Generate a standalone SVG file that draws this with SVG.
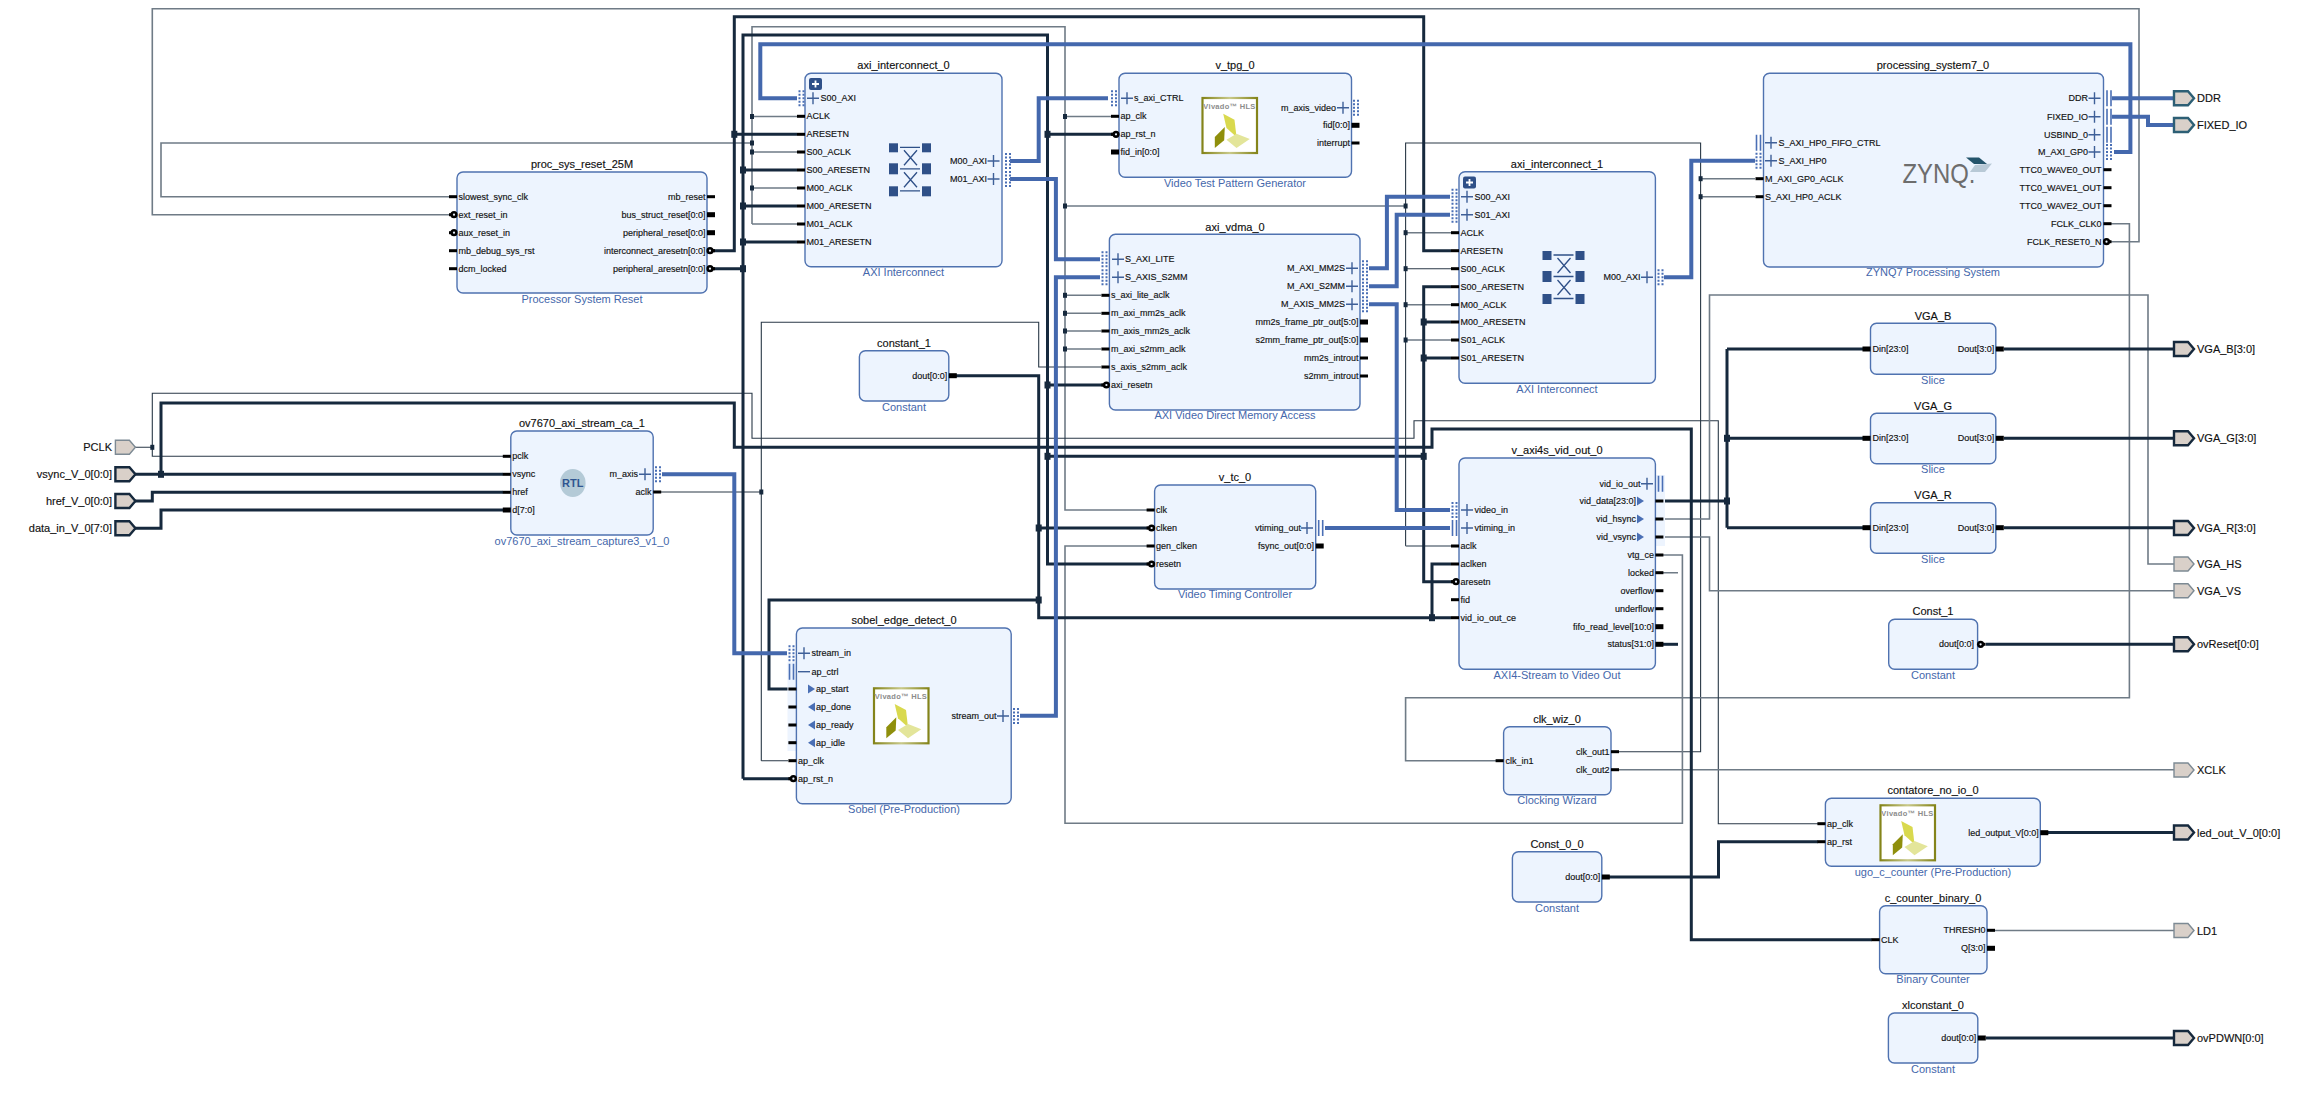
<svg xmlns="http://www.w3.org/2000/svg" width="2310" height="1093" viewBox="0 0 2310 1093">
<style>
text{font-family:"Liberation Sans",Arial,sans-serif;fill:#111;dominant-baseline:central;stroke:#111;stroke-width:.15}
.t{font-size:11px;text-anchor:middle}
.f{font-size:11px;text-anchor:middle;fill:#4567ab;stroke:none}
.l{font-size:9px}
.r{font-size:9px;text-anchor:end}
.p{font-size:11px}
.pr{font-size:11px;text-anchor:end}
.b{fill:#edf4fe;stroke:#4f72b0;stroke-width:1.4}
.w{fill:none;stroke:#16293d;stroke-width:3}
.g{fill:none;stroke:#6f7b86;stroke-width:1.6}
.n{fill:none;stroke:#2a3947;stroke-width:1.1}
.u{fill:none;stroke:#4468ad;stroke-width:4}
.j{fill:#16293d}
.pd{fill:#d9d0c9;stroke:#16293d;stroke-width:2.4}
.pg{fill:#d9d0c9;stroke:#7d8a94;stroke-width:1.4}
.pt{fill:#d9d0c9;stroke:#2d5f75;stroke-width:2.4}
</style>
<defs>
<rect id="sl" x="-8" y="-1.5" width="8" height="3" fill="#000"/>
<rect id="sr" x="0" y="-1.5" width="8" height="3" fill="#000"/>
<rect id="Sl" x="-8" y="-2.5" width="8" height="5" fill="#000"/>
<rect id="Sr" x="0" y="-2.5" width="8" height="5" fill="#000"/>
<g id="il"><rect x="-8" y="-1.500" width="5" height="3" fill="#000"/><circle cx="-3" r="3.600" fill="#000"/><circle cx="-3" r="1.100" fill="#edf4fe"/></g>
<g id="ir"><rect x="3" y="-1.500" width="5" height="3" fill="#000"/><circle cx="3" r="3.600" fill="#000"/><circle cx="3" r="1.100" fill="#edf4fe"/></g>
<rect id="j" x="-3" y="-3.5" width="6" height="7" class="j"/>
<rect id="jt" x="-2" y="-2.5" width="4" height="5" class="j"/>
<path id="pl" d="M-6 0H6M0-6V6" stroke="#3e5f98" stroke-width="1.4" fill="none"/>
<path id="bd" d="M-2-8V8M2-8V8" stroke="#4a6fb5" stroke-width="2" stroke-dasharray="2 1.5" fill="none"/>
<path id="bb" d="M-2-8V8M2-8V8" stroke="#4a6fb5" stroke-width="1.6" fill="none"/>
<polygon id="tr" points="0,-4.5 7,0 0,4.5" fill="#4a6fb5"/>
<polygon id="tl" points="7,-4.5 0,0 7,4.5" fill="#4a6fb5"/>
<polygon id="port" points="0,-7 14,-7 20,0 14,7 0,7"/>
<linearGradient id="hg" x1="0" y1="0" x2="1" y2="0"><stop offset="0" stop-color="#84841a"/><stop offset=".5" stop-color="#c9c98a"/><stop offset="1" stop-color="#84841a"/></linearGradient>
<g id="hls">
<rect x="1" y="1" width="54.5" height="55" fill="#fff" stroke="url(#hg)" stroke-width="2.2"/>
<text x="28" y="9.5" text-anchor="middle" style="font-size:7.5px;font-weight:bold;fill:#8c8c8c;stroke:none;letter-spacing:.3px">Vivado™ HLS</text>
<polygon points="21.7,16.7 33,22.7 35,40 25,31" fill="#d9d94e"/>
<polygon points="23.3,30 13.3,40 13.3,51 22.7,43.3" fill="#8f8f0c"/>
<polygon points="25,42.7 35,36.7 48.3,42 35,51" fill="#e3e59a"/>
</g>
<g id="xbar" fill="#2f5088">
<rect x="1" y="0" width="9" height="9"/><rect x="34" y="0" width="9" height="9"/>
<rect x="1" y="20" width="9" height="11"/><rect x="34" y="20" width="9" height="11"/>
<rect x="1" y="43" width="9" height="10"/><rect x="34" y="43" width="9" height="10"/>
<path d="M12 4H32M12 25.500H32M12 47.500H32M16 7L29 22M29 7L16 22M16 29L29 44M29 29L16 44" stroke="#2f5088" stroke-width="1.3" fill="none"/>
</g>
<g id="btn"><rect width="13" height="12" rx="2" fill="#2f5088"/><path d="M3 6H10M6.500 2.500V9.500" stroke="#fff" stroke-width="1.8"/></g>
</defs>

<g id="connectors">
<path class="g" d="M2111 241.700H2139V8.700H152.300V214.700H449"/>
<path class="g" d="M449 196.700H161V143H752M752 224V26.700H1065V510H1148M752 116.500H797M752 152H797M752 188H797M752 224H797"/>
<path class="g" d="M1065 116.500H1111M1065 206H1405.600M1065 295.300H1101M1065 313.300H1101M1065 331H1101M1065 349H1101"/>
<path class="n" d="M1405.600 546V143H1700.600V751.700H1611M1405.600 268.700H1451"/>
<path class="g" d="M1405.600 232.700H1451M1405.600 304.700H1451M1405.600 340H1451M1405.600 546H1451M1700.600 178.700H1755M1700.600 196.700H1755"/>
<path class="g" d="M2111 223.700H2129.400V697.700H1405.600V760.700H1496"/>
<path class="n" d="M503 456.300H152.300V393.300H752V438.300H1414V420.700H1718.300V823.700H1818M134.600 447.300H152.300"/>
<path class="n" d="M658 492H761.300M761.300 760.700V322.300H1038.700V367H1101M761.300 760.700H788"/>
<path class="g" d="M1663 555H1682.400V823.300H1065V546H1148"/>
<path class="g" d="M1663 519H1709.500V295H2148V564H2174M1663 537H1709.500V590.700H2174"/>
<path class="g" d="M1663 572.700H1678M1990 930.500H2174M1611 769.700H2174"/>
<path class="w" d="M707 250.700H734.300V16.700H1423.700V250.700H1451M734.300 134.300H797"/>
<path class="w" d="M707 268.700H743M743 778.700V35H1047.500V564H1148M743 170H797M743 206H797M743 242H797M743 778.700H790M1047.500 134.300H1113M1047.500 385H1103M1047.500 456.300H1423.700"/>
<path class="w" d="M1451 286.700H1423.700V581.700H1453M1423.700 322H1451M1423.700 358H1451"/>
<path class="w" d="M948.800 375.700H1038.700V617.700H1451M1038.700 528H1148M1038.700 600H769V689H788M1432 617.700V564H1451"/>
<path class="w" d="M134.600 474.300H503M161 474.300V403H734.300V447.300H1432V429H1691.300V939.700H1872"/>
<path class="w" d="M134.600 501H152.300V492.300H503M134.600 528.300H161V510H503"/>
<path class="w" d="M1663 501H1727M1727 349V527.700M1727 349H1863M1727 438.300H1863M1727 527.700H1863"/>
<path class="w" d="M2004 349H2174M2004 438.300H2174M2004 527.700H2174M1986 644.300H2174M2048 832.500H2174M1986 1038H2174"/>
<path class="w" d="M1609 877H1718.500V841.700H1818"/>
<path class="w" d="M1662 644.300H1678"/>
<path class="u" d="M797 98.300H760.300V44.300H2130.400V152H2114"/>
<path class="u" d="M1010 161H1038.700V98.300H1108"/>
<path class="u" d="M1010 179H1055.900V259.300H1100"/>
<path class="u" d="M1100 277.300H1055.900V715.700H1020"/>
<path class="u" d="M1369 268.300H1386.900V196.700H1450"/>
<path class="u" d="M1369 286.300H1396.700V214.700H1450"/>
<path class="u" d="M1369 304.300H1396.700V510H1450"/>
<path class="u" d="M1325 528H1450"/>
<path class="u" d="M662 474.300H734.300V653.300H787"/>
<path class="u" d="M1664 277.300H1691.300V160.700H1755"/>
<path class="u" d="M2112 98.300H2174"/>
<path class="u" d="M2112 116.700H2148V125H2174"/>
<g>
<use href="#j" x="734.300" y="134.300"/><use href="#j" x="743" y="170"/><use href="#j" x="743" y="206"/><use href="#j" x="743" y="242"/><use href="#j" x="743" y="268.700"/>
<use href="#j" x="1047.500" y="134.300"/><use href="#j" x="1047.500" y="385"/><use href="#j" x="1047.500" y="456.300"/><use href="#j" x="1423.700" y="456.300"/><use href="#j" x="1423.700" y="322"/><use href="#j" x="1423.700" y="358"/>
<use href="#j" x="1038.700" y="528"/><use href="#j" x="1038.700" y="600"/><use href="#j" x="1432" y="617.700"/><use href="#j" x="161" y="474.300"/><use href="#j" x="1727" y="438.300"/><use href="#j" x="1727" y="501"/>
<use href="#jt" x="752" y="116.500"/><use href="#jt" x="752" y="143"/><use href="#jt" x="752" y="152"/><use href="#jt" x="752" y="188"/>
<use href="#jt" x="1065" y="116.500"/><use href="#jt" x="1065" y="206"/><use href="#jt" x="1065" y="295.300"/><use href="#jt" x="1065" y="313.300"/><use href="#jt" x="1065" y="331"/><use href="#jt" x="1065" y="349"/>
<use href="#jt" x="1405.600" y="206"/><use href="#jt" x="1405.600" y="232.700"/><use href="#jt" x="1405.600" y="268.700"/><use href="#jt" x="1405.600" y="304.700"/><use href="#jt" x="1405.600" y="340"/>
<use href="#jt" x="1700.600" y="178.700"/><use href="#jt" x="1700.600" y="196.700"/><use href="#jt" x="152.300" y="447.300"/><use href="#jt" x="761.300" y="492"/>
</g>
</g>

<g id="proc_sys_reset_25M">
<rect class="b" x="457" y="172" width="250" height="121" rx="6"/>
<text class="t" x="582" y="164">proc_sys_reset_25M</text><text class="f" x="582" y="299">Processor System Reset</text>
<use href="#sl" x="457" y="196.700"/><use href="#il" x="457" y="214.700"/><use href="#il" x="457" y="232.700"/><use href="#sl" x="457" y="250.700"/><use href="#sl" x="457" y="268.700"/>
<use href="#sr" x="707" y="196.700"/><use href="#Sr" x="707" y="214.700"/><use href="#Sr" x="707" y="232.700"/><use href="#ir" x="707" y="250.700"/><use href="#ir" x="707" y="268.700"/>
<text class="l" x="458.500" y="196.700">slowest_sync_clk</text><text class="l" x="458.500" y="214.700">ext_reset_in</text><text class="l" x="458.500" y="232.700">aux_reset_in</text><text class="l" x="458.500" y="250.700">mb_debug_sys_rst</text><text class="l" x="458.500" y="268.700">dcm_locked</text>
<text class="r" x="705.500" y="196.700">mb_reset</text><text class="r" x="705.500" y="214.700">bus_struct_reset[0:0]</text><text class="r" x="705.500" y="232.700">peripheral_reset[0:0]</text><text class="r" x="705.500" y="250.700">interconnect_aresetn[0:0]</text><text class="r" x="705.500" y="268.700">peripheral_aresetn[0:0]</text>
</g>

<g id="axi_interconnect_0">
<rect class="b" x="805" y="73.300" width="197" height="193.400" rx="6"/>
<text class="t" x="903.500" y="65">axi_interconnect_0</text><text class="f" x="903.500" y="272">AXI Interconnect</text>
<use href="#btn" x="809" y="78"/><use href="#xbar" x="888" y="143.300"/>
<use href="#bd" x="801.500" y="98.300"/><use href="#pl" x="813" y="98.300"/>
<use href="#sl" x="805" y="116.300"/><use href="#sl" x="805" y="134.300"/><use href="#sl" x="805" y="152"/><use href="#sl" x="805" y="170"/><use href="#sl" x="805" y="188"/><use href="#sl" x="805" y="206"/><use href="#sl" x="805" y="224"/><use href="#sl" x="805" y="242"/>
<use href="#bd" x="1008" y="161"/><use href="#pl" x="993.500" y="161"/><use href="#bd" x="1008" y="179"/><use href="#pl" x="993.500" y="179"/>
<text class="l" x="820.500" y="98.300">S00_AXI</text><text class="l" x="806.500" y="116.300">ACLK</text><text class="l" x="806.500" y="134.300">ARESETN</text><text class="l" x="806.500" y="152">S00_ACLK</text><text class="l" x="806.500" y="170">S00_ARESETN</text><text class="l" x="806.500" y="188">M00_ACLK</text><text class="l" x="806.500" y="206">M00_ARESETN</text><text class="l" x="806.500" y="224">M01_ACLK</text><text class="l" x="806.500" y="242">M01_ARESETN</text>
<text class="r" x="987" y="161">M00_AXI</text><text class="r" x="987" y="179">M01_AXI</text>
</g>

<g id="v_tpg_0">
<rect class="b" x="1119" y="73.300" width="232.500" height="104" rx="6"/>
<text class="t" x="1235" y="65">v_tpg_0</text><text class="f" x="1235" y="183">Video Test Pattern Generator</text>
<use href="#hls" x="1201.500" y="97"/>
<use href="#bd" x="1114" y="98.300"/><use href="#pl" x="1127" y="98.300"/><use href="#sl" x="1119" y="116.300"/><use href="#il" x="1119" y="134.300"/><use href="#Sl" x="1119" y="152"/>
<use href="#bd" x="1356" y="107.700"/><use href="#pl" x="1343" y="107.700"/><use href="#Sr" x="1351.500" y="125.300"/><use href="#sr" x="1351.500" y="143"/>
<text class="l" x="1134" y="98.300">s_axi_CTRL</text><text class="l" x="1120.500" y="116.300">ap_clk</text><text class="l" x="1120.500" y="134.300">ap_rst_n</text><text class="l" x="1120.500" y="152">fid_in[0:0]</text>
<text class="r" x="1336" y="107.700">m_axis_video</text><text class="r" x="1350" y="125.300">fid[0:0]</text><text class="r" x="1350" y="143">interrupt</text>
</g>

<g id="axi_vdma_0">
<rect class="b" x="1109.400" y="234.300" width="250.600" height="175.700" rx="6"/>
<text class="t" x="1235" y="227">axi_vdma_0</text><text class="f" x="1235" y="415">AXI Video Direct Memory Access</text>
<use href="#bd" x="1104.500" y="259.300"/><use href="#pl" x="1118" y="259.300"/><use href="#bd" x="1104.500" y="277.300"/><use href="#pl" x="1118" y="277.300"/>
<use href="#sl" x="1109.400" y="295.300"/><use href="#sl" x="1109.400" y="313.300"/><use href="#sl" x="1109.400" y="331"/><use href="#sl" x="1109.400" y="349"/><use href="#sl" x="1109.400" y="367"/><use href="#il" x="1109.400" y="385"/>
<use href="#bd" x="1365" y="268.300"/><use href="#pl" x="1352" y="268.300"/><use href="#bd" x="1365" y="286.300"/><use href="#pl" x="1352" y="286.300"/><use href="#bd" x="1365" y="304.300"/><use href="#pl" x="1352" y="304.300"/>
<use href="#Sr" x="1360" y="322"/><use href="#Sr" x="1360" y="340"/><use href="#sr" x="1360" y="358"/><use href="#sr" x="1360" y="376"/>
<text class="l" x="1125" y="259.300">S_AXI_LITE</text><text class="l" x="1125" y="277.300">S_AXIS_S2MM</text><text class="l" x="1111" y="295.300">s_axi_lite_aclk</text><text class="l" x="1111" y="313.300">m_axi_mm2s_aclk</text><text class="l" x="1111" y="331">m_axis_mm2s_aclk</text><text class="l" x="1111" y="349">m_axi_s2mm_aclk</text><text class="l" x="1111" y="367">s_axis_s2mm_aclk</text><text class="l" x="1111" y="385">axi_resetn</text>
<text class="r" x="1345" y="268.300">M_AXI_MM2S</text><text class="r" x="1345" y="286.300">M_AXI_S2MM</text><text class="r" x="1345" y="304.300">M_AXIS_MM2S</text><text class="r" x="1358.500" y="322">mm2s_frame_ptr_out[5:0]</text><text class="r" x="1358.500" y="340">s2mm_frame_ptr_out[5:0]</text><text class="r" x="1358.500" y="358">mm2s_introut</text><text class="r" x="1358.500" y="376">s2mm_introut</text>
</g>

<g id="axi_interconnect_1">
<rect class="b" x="1459" y="171.700" width="196.400" height="211.600" rx="6"/>
<text class="t" x="1557" y="164">axi_interconnect_1</text><text class="f" x="1557" y="389">AXI Interconnect</text>
<use href="#btn" x="1463" y="176.500"/><use href="#xbar" x="1541.500" y="251"/>
<use href="#bd" x="1454.500" y="196.700"/><use href="#pl" x="1467" y="196.700"/><use href="#bd" x="1454.500" y="214.700"/><use href="#pl" x="1467" y="214.700"/>
<use href="#sl" x="1459" y="232.700"/><use href="#sl" x="1459" y="250.700"/><use href="#sl" x="1459" y="268.700"/><use href="#sl" x="1459" y="286.700"/><use href="#sl" x="1459" y="304.700"/><use href="#sl" x="1459" y="322"/><use href="#sl" x="1459" y="340"/><use href="#sl" x="1459" y="358"/>
<use href="#bd" x="1660.500" y="277.300"/><use href="#pl" x="1647" y="277.300"/>
<text class="l" x="1474.500" y="196.700">S00_AXI</text><text class="l" x="1474.500" y="214.700">S01_AXI</text><text class="l" x="1460.500" y="232.700">ACLK</text><text class="l" x="1460.500" y="250.700">ARESETN</text><text class="l" x="1460.500" y="268.700">S00_ACLK</text><text class="l" x="1460.500" y="286.700">S00_ARESETN</text><text class="l" x="1460.500" y="304.700">M00_ACLK</text><text class="l" x="1460.500" y="322">M00_ARESETN</text><text class="l" x="1460.500" y="340">S01_ACLK</text><text class="l" x="1460.500" y="358">S01_ARESETN</text>
<text class="r" x="1640.500" y="277.300">M00_AXI</text>
</g>

<g id="processing_system7_0">
<rect class="b" x="1763.500" y="73.300" width="340" height="193.700" rx="6"/>
<text class="t" x="1933" y="65">processing_system7_0</text><text class="f" x="1933" y="272">ZYNQ7 Processing System</text>
<text x="1902.500" y="173" textLength="73" lengthAdjust="spacingAndGlyphs" style="font-size:28px;fill:#6d6d6d;stroke:none">ZYNQ.</text>
<polygon points="1966,157.500 1979,157.500 1987,164 1974,164" fill="#24546b"/><polygon points="1975,165 1992,163.500 1985,172 1970,172" fill="#b8c9d6"/>
<use href="#bb" x="1758.500" y="142.700"/><use href="#pl" x="1771" y="142.700"/><use href="#bd" x="1758.500" y="160.700"/><use href="#pl" x="1771" y="160.700"/><use href="#sl" x="1763.500" y="178.700"/><use href="#sl" x="1763.500" y="196.700"/>
<use href="#bb" x="2109" y="98.300"/><use href="#pl" x="2094.500" y="98.300"/><use href="#bb" x="2109" y="116.700"/><use href="#pl" x="2094.500" y="116.700"/><use href="#bb" x="2109" y="134.700"/><use href="#pl" x="2094.500" y="134.700"/><use href="#bd" x="2109" y="152"/><use href="#pl" x="2094.500" y="152"/>
<use href="#sr" x="2103.500" y="169.700"/><use href="#sr" x="2103.500" y="187.700"/><use href="#sr" x="2103.500" y="205.700"/><use href="#sr" x="2103.500" y="223.700"/><use href="#ir" x="2103.500" y="241.700"/>
<text class="l" x="1778.500" y="142.700">S_AXI_HP0_FIFO_CTRL</text><text class="l" x="1778.500" y="160.700">S_AXI_HP0</text><text class="l" x="1765" y="178.700">M_AXI_GP0_ACLK</text><text class="l" x="1765" y="196.700">S_AXI_HP0_ACLK</text>
<text class="r" x="2088" y="98.300">DDR</text><text class="r" x="2088" y="116.700">FIXED_IO</text><text class="r" x="2088" y="134.700">USBIND_0</text><text class="r" x="2088" y="152">M_AXI_GP0</text>
<text class="r" x="2101.500" y="169.700">TTC0_WAVE0_OUT</text><text class="r" x="2101.500" y="187.700">TTC0_WAVE1_OUT</text><text class="r" x="2101.500" y="205.700">TTC0_WAVE2_OUT</text><text class="r" x="2101.500" y="223.700">FCLK_CLK0</text><text class="r" x="2101.500" y="241.700">FCLK_RESET0_N</text>
</g>

<g id="ov7670_axi_stream_ca_1">
<rect class="b" x="510.800" y="431" width="142.400" height="104" rx="6"/>
<text class="t" x="582" y="423.300">ov7670_axi_stream_ca_1</text><text class="f" x="582" y="541">ov7670_axi_stream_capture3_v1_0</text>
<ellipse cx="572.800" cy="483" rx="12.800" ry="14" fill="#b4cad7"/><text x="572.800" y="483" text-anchor="middle" style="font-size:11px;font-weight:bold;fill:#2f5590;stroke:none">RTL</text>
<use href="#sl" x="510.800" y="456.300"/><use href="#sl" x="510.800" y="474.300"/><use href="#sl" x="510.800" y="492.300"/><use href="#Sl" x="510.800" y="510"/>
<use href="#bd" x="658" y="474.300"/><use href="#pl" x="645" y="474.300"/><use href="#sr" x="653.200" y="492"/>
<text class="l" x="512.300" y="456.300">pclk</text><text class="l" x="512.300" y="474.300">vsync</text><text class="l" x="512.300" y="492.300">href</text><text class="l" x="512.300" y="510">d[7:0]</text>
<text class="r" x="638" y="474.300">m_axis</text><text class="r" x="651.500" y="492">aclk</text>
</g>

<g id="constant_1">
<rect class="b" x="859.400" y="350.700" width="89.400" height="50.300" rx="6"/>
<text class="t" x="904" y="343.300">constant_1</text><text class="f" x="904" y="407.300">Constant</text>
<use href="#Sr" x="948.800" y="375.700"/><text class="r" x="947.300" y="375.700">dout[0:0]</text>
</g>

<g id="v_tc_0">
<rect class="b" x="1154.600" y="485" width="161.100" height="104" rx="6"/>
<text class="t" x="1235" y="477.300">v_tc_0</text><text class="f" x="1235" y="594.300">Video Timing Controller</text>
<use href="#sl" x="1154.600" y="510"/><use href="#il" x="1154.600" y="528"/><use href="#sl" x="1154.600" y="546"/><use href="#il" x="1154.600" y="564"/>
<use href="#bb" x="1320.700" y="528"/><use href="#pl" x="1307" y="528"/><use href="#Sr" x="1315.700" y="546"/>
<text class="l" x="1156" y="510">clk</text><text class="l" x="1156" y="528">clken</text><text class="l" x="1156" y="546">gen_clken</text><text class="l" x="1156" y="564">resetn</text>
<text class="r" x="1301" y="528">vtiming_out</text><text class="r" x="1314" y="546">fsync_out[0:0]</text>
</g>

<g id="v_axi4s_vid_out_0">
<rect x="1655.400" y="475" width="9.600" height="71" fill="#edf4fe"/>
<rect class="b" x="1459" y="458" width="196.400" height="211.300" rx="6"/>
<text class="t" x="1557" y="450.300">v_axi4s_vid_out_0</text><text class="f" x="1557" y="675">AXI4-Stream to Video Out</text>
<use href="#bd" x="1454.500" y="510"/><use href="#pl" x="1467" y="510"/><use href="#bb" x="1454.500" y="528"/><use href="#pl" x="1467" y="528"/>
<use href="#sl" x="1459" y="546"/><use href="#sl" x="1459" y="564"/><use href="#il" x="1459" y="581.700"/><use href="#sl" x="1459" y="599.700"/><use href="#sl" x="1459" y="617.700"/>
<use href="#bb" x="1660.500" y="483.700"/><use href="#pl" x="1647" y="483.700"/><use href="#tr" x="1637" y="501"/><use href="#tr" x="1637" y="519"/><use href="#tr" x="1637" y="537"/>
<use href="#sr" x="1655.400" y="501"/><use href="#sr" x="1655.400" y="519"/><use href="#sr" x="1655.400" y="537"/><use href="#sr" x="1655.400" y="555"/><use href="#sr" x="1655.400" y="572.700"/><use href="#sr" x="1655.400" y="590.700"/><use href="#sr" x="1655.400" y="608.700"/><use href="#Sr" x="1655.400" y="626.700"/><use href="#Sr" x="1655.400" y="644.300"/>
<text class="l" x="1474.500" y="510">video_in</text><text class="l" x="1474.500" y="528">vtiming_in</text><text class="l" x="1460.500" y="546">aclk</text><text class="l" x="1460.500" y="564">aclken</text><text class="l" x="1460.500" y="581.700">aresetn</text><text class="l" x="1460.500" y="599.700">fid</text><text class="l" x="1460.500" y="617.700">vid_io_out_ce</text>
<text class="r" x="1640.500" y="483.700">vid_io_out</text><text class="r" x="1636" y="501">vid_data[23:0]</text><text class="r" x="1636" y="519">vid_hsync</text><text class="r" x="1636" y="537">vid_vsync</text><text class="r" x="1654" y="555">vtg_ce</text><text class="r" x="1654" y="572.700">locked</text><text class="r" x="1654" y="590.700">overflow</text><text class="r" x="1654" y="608.700">underflow</text><text class="r" x="1654" y="626.700">fifo_read_level[10:0]</text><text class="r" x="1654" y="644.300">status[31:0]</text>
</g>

<g id="sobel_edge_detect_0">
<rect x="787.500" y="662" width="9" height="89" fill="#edf4fe"/>
<rect class="b" x="796.400" y="628" width="214.800" height="175.700" rx="6"/>
<text class="t" x="904" y="620.300">sobel_edge_detect_0</text><text class="f" x="904" y="809.300">Sobel (Pre-Production)</text>
<use href="#hls" x="873" y="687.300"/>
<use href="#bd" x="791.500" y="653.300"/><use href="#pl" x="804" y="653.300"/><use href="#bb" x="791.500" y="671.700"/><path d="M798 671.700H810" stroke="#3e5f98" stroke-width="1.400"/>
<use href="#tr" x="808" y="689"/><use href="#tl" x="808" y="707"/><use href="#tl" x="808" y="725"/><use href="#tl" x="808" y="742.700"/>
<use href="#sl" x="796.400" y="689"/><use href="#sl" x="796.400" y="707"/><use href="#sl" x="796.400" y="725"/><use href="#sl" x="796.400" y="742.700"/><use href="#sl" x="796.400" y="760.700"/><use href="#il" x="796.400" y="778.700"/>
<use href="#bd" x="1016" y="716"/><use href="#pl" x="1003" y="716"/>
<text class="l" x="811.500" y="653.300">stream_in</text><text class="l" x="811.500" y="671.700">ap_ctrl</text><text class="l" x="816" y="689">ap_start</text><text class="l" x="816" y="707">ap_done</text><text class="l" x="816" y="725">ap_ready</text><text class="l" x="816" y="742.700">ap_idle</text><text class="l" x="798" y="760.700">ap_clk</text><text class="l" x="798" y="778.700">ap_rst_n</text>
<text class="r" x="996.500" y="716">stream_out</text>
</g>

<g id="clk_wiz_0">
<rect class="b" x="1503.600" y="726.700" width="107.400" height="68" rx="6"/>
<text class="t" x="1557" y="719.300">clk_wiz_0</text><text class="f" x="1557" y="800.300">Clocking Wizard</text>
<use href="#sl" x="1503.600" y="760.700"/><use href="#sr" x="1611" y="751.700"/><use href="#sr" x="1611" y="769.700"/>
<text class="l" x="1505.500" y="760.700">clk_in1</text><text class="r" x="1609.500" y="751.700">clk_out1</text><text class="r" x="1609.500" y="769.700">clk_out2</text>
</g>

<g id="Const_0_0">
<rect class="b" x="1512.400" y="851.700" width="89.400" height="50.300" rx="6"/>
<text class="t" x="1557" y="844">Const_0_0</text><text class="f" x="1557" y="908.300">Constant</text>
<use href="#Sr" x="1601.800" y="877"/><text class="r" x="1600.300" y="877">dout[0:0]</text>
</g>

<g id="VGA_B">
<rect class="b" x="1870.500" y="323.300" width="125.300" height="51" rx="6"/>
<text class="t" x="1933" y="316">VGA_B</text><text class="f" x="1933" y="380">Slice</text>
<use href="#Sl" x="1870.500" y="349"/><use href="#Sr" x="1995.800" y="349"/>
<text class="l" x="1872.500" y="349">Din[23:0]</text><text class="r" x="1994.300" y="349">Dout[3:0]</text>
</g>
<g id="VGA_G">
<rect class="b" x="1870.500" y="413.300" width="125.300" height="50.400" rx="6"/>
<text class="t" x="1933" y="406">VGA_G</text><text class="f" x="1933" y="469.300">Slice</text>
<use href="#Sl" x="1870.500" y="438.300"/><use href="#Sr" x="1995.800" y="438.300"/>
<text class="l" x="1872.500" y="438.300">Din[23:0]</text><text class="r" x="1994.300" y="438.300">Dout[3:0]</text>
</g>
<g id="VGA_R">
<rect class="b" x="1870.500" y="502.700" width="125.300" height="50.600" rx="6"/>
<text class="t" x="1933" y="495">VGA_R</text><text class="f" x="1933" y="559">Slice</text>
<use href="#Sl" x="1870.500" y="527.700"/><use href="#Sr" x="1995.800" y="527.700"/>
<text class="l" x="1872.500" y="527.700">Din[23:0]</text><text class="r" x="1994.300" y="527.700">Dout[3:0]</text>
</g>
<g id="Const_1">
<rect class="b" x="1888.700" y="619.300" width="88.900" height="50" rx="6"/>
<text class="t" x="1933" y="611">Const_1</text><text class="f" x="1933" y="675.300">Constant</text>
<use href="#ir" x="1977.600" y="644.300"/><text class="r" x="1974" y="644.300">dout[0:0]</text>
</g>
<g id="contatore_no_io_0">
<rect class="b" x="1825.400" y="798.300" width="214.900" height="68" rx="6"/>
<text class="t" x="1933" y="790.300">contatore_no_io_0</text><text class="f" x="1933" y="872.300">ugo_c_counter (Pre-Production)</text>
<use href="#hls" x="1879.500" y="804.300"/>
<use href="#sl" x="1825.400" y="823.700"/><use href="#sl" x="1825.400" y="841.700"/><use href="#Sr" x="2040.300" y="832.700"/>
<text class="l" x="1827" y="823.700">ap_clk</text><text class="l" x="1827" y="841.700">ap_rst</text><text class="r" x="2038.800" y="832.700">led_output_V[0:0]</text>
</g>
<g id="c_counter_binary_0">
<rect class="b" x="1879.600" y="905.700" width="107.400" height="68" rx="6"/>
<text class="t" x="1933" y="898.300">c_counter_binary_0</text><text class="f" x="1933" y="979.300">Binary Counter</text>
<use href="#sl" x="1879.600" y="939.700"/><use href="#sr" x="1987" y="930.300"/><use href="#Sr" x="1987" y="948.300"/>
<text class="l" x="1881" y="939.700">CLK</text><text class="r" x="1985.500" y="930.300">THRESH0</text><text class="r" x="1985.500" y="948.300">Q[3:0]</text>
</g>
<g id="xlconstant_0">
<rect class="b" x="1888.400" y="1013" width="89.400" height="50" rx="6"/>
<text class="t" x="1933" y="1005.300">xlconstant_0</text><text class="f" x="1933" y="1069.300">Constant</text>
<use href="#Sr" x="1977.800" y="1038"/><text class="r" x="1976.300" y="1038">dout[0:0]</text>
</g>

<g id="port_PCLK"><use href="#port" class="pg" x="115.400" y="447.300"/><text class="pr" x="112" y="447.300">PCLK</text></g>
<g id="port_vsync_V_0"><use href="#port" class="pd" x="115.400" y="474.300"/><text class="pr" x="112" y="474.300">vsync_V_0[0:0]</text></g>
<g id="port_href_V_0"><use href="#port" class="pd" x="115.400" y="501"/><text class="pr" x="112" y="501">href_V_0[0:0]</text></g>
<g id="port_data_in_V_0"><use href="#port" class="pd" x="115.400" y="528.300"/><text class="pr" x="112" y="528.300">data_in_V_0[7:0]</text></g>
<g id="port_DDR"><use href="#port" class="pt" x="2174" y="98.300"/><text class="p" x="2197" y="98.300">DDR</text></g>
<g id="port_FIXED_IO"><use href="#port" class="pt" x="2174" y="125"/><text class="p" x="2197" y="125">FIXED_IO</text></g>
<g id="port_VGA_B"><use href="#port" class="pd" x="2174" y="349"/><text class="p" x="2197" y="349">VGA_B[3:0]</text></g>
<g id="port_VGA_G"><use href="#port" class="pd" x="2174" y="438.300"/><text class="p" x="2197" y="438.300">VGA_G[3:0]</text></g>
<g id="port_VGA_R"><use href="#port" class="pd" x="2174" y="528"/><text class="p" x="2197" y="528">VGA_R[3:0]</text></g>
<g id="port_VGA_HS"><use href="#port" class="pg" x="2174" y="564"/><text class="p" x="2197" y="564">VGA_HS</text></g>
<g id="port_VGA_VS"><use href="#port" class="pg" x="2174" y="590.700"/><text class="p" x="2197" y="590.700">VGA_VS</text></g>
<g id="port_ovReset"><use href="#port" class="pd" x="2174" y="644.300"/><text class="p" x="2197" y="644.300">ovReset[0:0]</text></g>
<g id="port_XCLK"><use href="#port" class="pg" x="2174" y="770"/><text class="p" x="2197" y="770">XCLK</text></g>
<g id="port_led_out"><use href="#port" class="pd" x="2174" y="832.500"/><text class="p" x="2197" y="832.500">led_out_V_0[0:0]</text></g>
<g id="port_LD1"><use href="#port" class="pg" x="2174" y="930.500"/><text class="p" x="2197" y="930.500">LD1</text></g>
<g id="port_ovPDWN"><use href="#port" class="pd" x="2174" y="1038"/><text class="p" x="2197" y="1038">ovPDWN[0:0]</text></g>
</svg>
